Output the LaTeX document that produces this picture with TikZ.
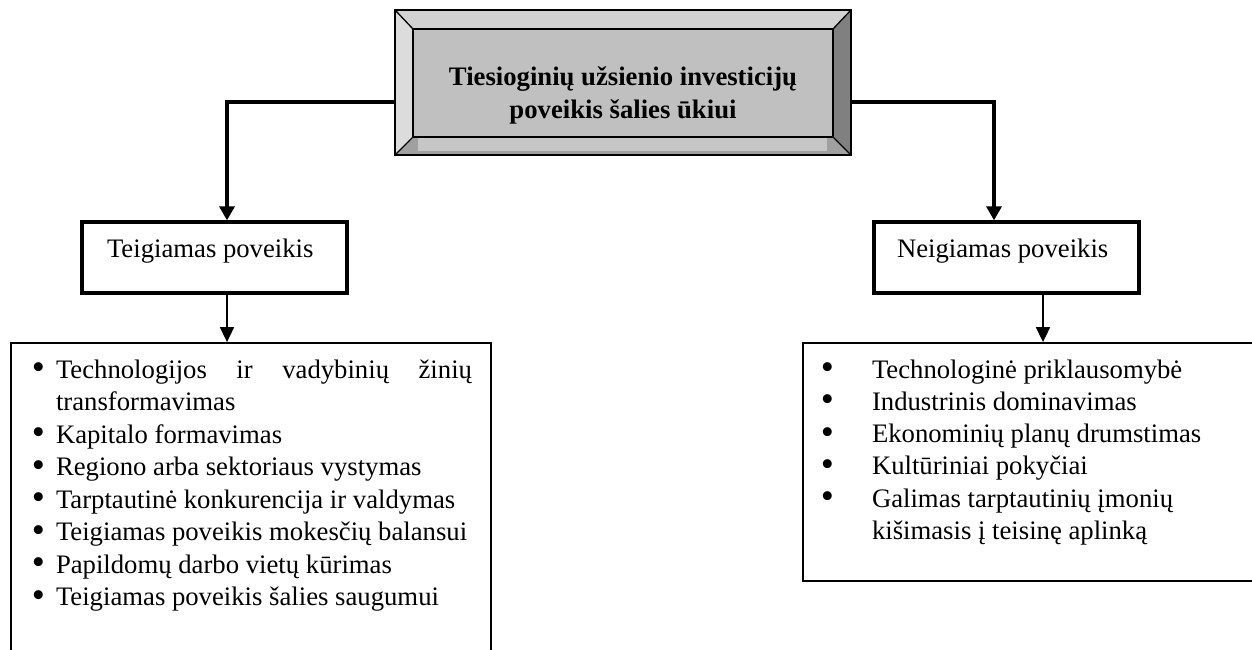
\documentclass[tikz,border=0pt]{standalone}
\usepackage{fontspec}
\usepackage{graphicx}
\setmainfont{Liberation Serif}
\usetikzlibrary{arrows.meta,calc}
\definecolor{faceC}{HTML}{C0C0C0}
\definecolor{faceL}{HTML}{C6C6C6}
\definecolor{bevT}{HTML}{D2D2D2}
\definecolor{bevL}{HTML}{DCDCDC}
\definecolor{bevR}{HTML}{808080}
\definecolor{bevB}{HTML}{A0A0A0}
\newcommand{\bfont}{\fontsize{26.7pt}{32.5pt}\selectfont}
\newcommand{\bigbul}{\raisebox{-1.5pt}{\scalebox{1.4}{\textbullet}}}
\newcommand{\lbul}{\leavevmode\llap{\bigbul\hspace{11pt}}}
\newcommand{\rbul}{\leavevmode\llap{\bigbul\hspace{38pt}}}
\tikzset{
  bevelbox/.style={draw=none, minimum width=456pt, minimum height=145pt, inner sep=0pt, outer sep=0pt},
  headbox/.style={draw, line width=3.3pt, minimum width=265pt, minimum height=71pt, inner sep=0pt},
  listbox/.style={draw, line width=1.8pt, inner sep=0pt},
  txt/.style={inner sep=0pt, outer sep=0pt},
  thickarrow/.style={line width=3.3pt, -{Triangle[length=14pt,width=15pt]}},
  thinarrow/.style={line width=1.7pt, -{Triangle[length=15pt,width=14pt]}},
  bevelline/.style={line width=1.3pt},
}
\begin{document}
\begin{tikzpicture}[x=1pt,y=-1pt]
\useasboundingbox (0,0) rectangle (1252,650);
\clip (0,0) rectangle (1252,650);
\fill[white] (0,0) rectangle (1252,650);

% top bevel box
\node[bevelbox] (top) at (623,82.5) {};
\coordinate (inw) at ($(top.north west)+(18,19)$);
\coordinate (ine) at ($(top.north east)+(-18,19)$);
\coordinate (isw) at ($(top.south west)+(18,-18)$);
\coordinate (ise) at ($(top.south east)+(-18,-18)$);
\fill[bevT] (top.north west) -- (top.north east) -- (ine) -- (inw) -- cycle;
\fill[bevL] (top.north west) -- (inw) -- (isw) -- (top.south west) -- cycle;
\fill[bevR] (top.north east) -- (top.south east) -- (ise) -- (ine) -- cycle;
\fill[bevB] (top.south west) -- (isw) -- (ise) -- (top.south east) -- cycle;
\fill[faceC] (inw) rectangle (ise);
\draw[bevelline] (inw) rectangle (ise);
\draw[bevelline] (top.north west) -- (inw) (top.north east) -- (ine)
  (top.south west) -- (isw) (top.south east) -- (ise);
\fill[faceL] ($(isw)+(5,0.8)$) rectangle ($(ise)+(-6,14)$);
\draw[line width=2pt] (top.north west) rectangle (top.south east);
\node[txt, anchor=base] (toptxt) at (623,86)
  {\parbox[t]{420pt}{\centering\bfont\bfseries Tiesioginių užsienio investicijų\\ poveikis šalies ūkiui}};

% middle boxes
\node[headbox] (lpos) at (214.5,257.5) {};
\node[headbox] (rpos) at (1006.5,257.5) {};
\node[txt, anchor=base west] (lpostxt) at (107,257) {\bfont Teigiamas poveikis};
\node[txt, anchor=base west] (rpostxt) at (897,257) {\bfont Neigiamas poveikis};

% list boxes
\node[listbox, minimum width=480pt, minimum height=337pt] (llist) at (251,511.5) {};
\node[listbox, minimum width=467pt, minimum height=238pt] (rlist) at (1036.5,462) {};

\node[txt, anchor=base west] (ltxt) at (56,378) {\parbox[t]{416pt}{\bfont\setlength{\parindent}{0pt}%
\lbul\makebox[416pt][s]{Technologijos ir vadybinių žinių}\\
transformavimas\\
\lbul Kapitalo formavimas\\
\lbul Regiono arba sektoriaus vystymas\\
\lbul Tarptautinė konkurencija ir valdymas\\
\lbul Teigiamas poveikis mokesčių balansui\\
\lbul Papildomų darbo vietų kūrimas\\
\lbul Teigiamas poveikis šalies saugumui}};

\node[txt, anchor=base west] (rtxt) at (872,378) {\parbox[t]{380pt}{\fontsize{26.7pt}{32.3pt}\selectfont\setlength{\parindent}{0pt}%
\rbul Technologinė priklausomybė\\
\rbul Industrinis dominavimas\\
\rbul Ekonominių planų drumstimas\\
\rbul Kultūriniai pokyčiai\\
\rbul Galimas tarptautinių įmonių\\
kišimasis į teisinę aplinką}};

% connectors
\draw[thickarrow] ([yshift=-19.5pt]top.west) -| ([xshift=12.5pt]lpos.north);
\draw[thickarrow] ([yshift=-19.5pt]top.east) -| ([xshift=-12.5pt]rpos.north);
\draw[thinarrow] ([xshift=12.5pt]lpos.south) -- ([xshift=12.5pt]lpos.south |- llist.north);
\draw[thinarrow] ([xshift=36.5pt]rpos.south) -- ([xshift=36.5pt]rpos.south |- rlist.north);
\end{tikzpicture}
\end{document}
